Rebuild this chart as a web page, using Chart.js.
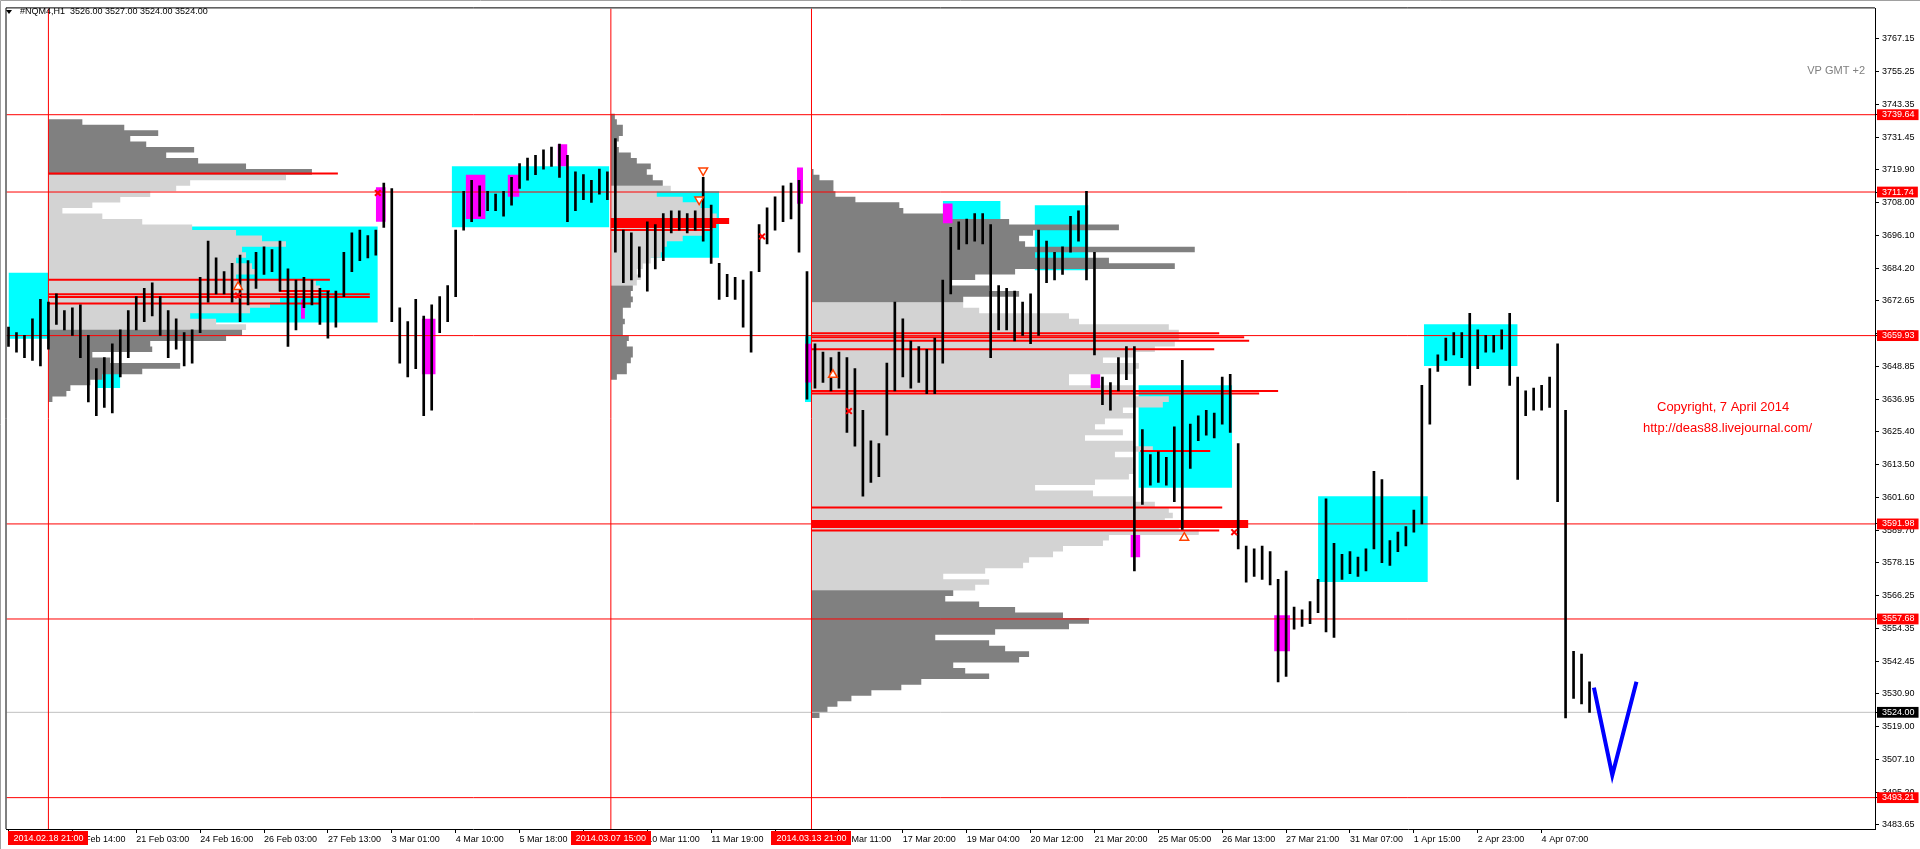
<!DOCTYPE html>
<html>
<head>
<meta charset="utf-8">
<script src="https://cdn.jsdelivr.net/npm/chart.js@4.4.1/dist/chart.umd.min.js"></script>
<style>
  html, body { margin: 0; padding: 0; background: #fff; overflow: hidden; }
  canvas { display: block; }
</style>
</head>
<body>
<canvas id="chart" width="1920" height="849"></canvas>
<script>
// ---- data (NQM4 H1; one sample = 4 hourly bars) ----
const barLow = [
  3656,3654,3652,3651,3649,3655,3664,3662,3660,3652,
  3636,3631,3634,3632,3645,3652,3662,3665,3667,3660,
  3652,3655,3649,3650,3661,3672,3675,3675,3672,3665,
  3671,3677,3682,3683,3676,3656,3662,3670,3671,3664,
  3659,3663,3674,3683,3687,3688,3689,3699,3665,3650,
  3645,3648,3631,3633,3661,3665,3674,3698,3701,3703,
  3705,3705,3703,3707,3713,3716,3718,3720,3721,3717,
  3701,3705,3709,3708,3711,3709,3690,3679,3680,3681,
  3676,3684,3687,3697,3698,3697,3698,3694,3686,3673,
  3674,3673,3663,3654,3683,3693,3698,3701,3702,3690,
  3637,3641,3643,3640,3641,3625,3620,3602,3607,3609,
  3624,3640,3645,3641,3643,3639,3639,3650,3675,3691,
  3693,3694,3693,3652,3662,3662,3658,3660,3657,3660,
  3679,3680,3682,3690,3694,3680,3653,3635,3633,3640,
  3644,3575,3599,3606,3607,3606,3600,3590,3612,3622,
  3624,3623,3628,3625,3583,3571,3573,3572,3570,3535,
  3537,3554,3555,3556,3560,3553,3551,3572,3574,3573,
  3575,3583,3578,3577,3582,3584,3589,3592,3628,3647,
  3651,3653,3652,3642,3648,3654,3654,3655,3642,3608,
  3631,3633,3633,3634,3600,3522,3529,3527,3524
];
const barHigh = [
  3663,3661,3660,3666,3673,3672,3675,3669,3670,3671,
  3660,3648,3652,3657,3662,3669,3674,3677,3679,3674,
  3669,3666,3661,3662,3681,3694,3688,3683,3686,3689,
  3687,3690,3692,3691,3694,3684,3680,3681,3680,3677,
  3676,3676,3690,3697,3698,3696,3698,3715,3713,3670,
  3665,3673,3667,3671,3674,3678,3698,3712,3716,3714,
  3712,3711,3712,3717,3722,3724,3725,3727,3728,3729,
  3725,3719,3718,3716,3720,3719,3731,3698,3697,3692,
  3701,3700,3704,3705,3705,3704,3705,3717,3707,3686,
  3682,3681,3680,3683,3700,3706,3710,3714,3715,3716,
  3683,3657,3654,3652,3654,3652,3648,3633,3622,3621,
  3650,3672,3666,3658,3656,3655,3659,3680,3699,3701,
  3702,3704,3704,3700,3678,3677,3676,3672,3675,3698,
  3694,3690,3692,3703,3705,3712,3690,3645,3643,3652,
  3656,3656,3626,3617,3618,3616,3627,3651,3628,3631,
  3633,3632,3645,3646,3621,3584,3583,3584,3582,3572,
  3575,3562,3561,3564,3572,3601,3585,3581,3582,3580,
  3583,3611,3608,3586,3589,3591,3597,3642,3648,3653,
  3659,3661,3661,3668,3662,3660,3660,3662,3668,3645,
  3640,3641,3642,3645,3657,3633,3546,3545,3535
];
// hour index of each sample on the time axis
const barHour = barLow.map((_, i) => 1 + 4 * i);

const xTickLabels = [
  '18 Feb 07:00', '19 Feb 14:00', '21 Feb 03:00', '24 Feb 16:00', '26 Feb 03:00',
  '27 Feb 13:00', '3 Mar 01:00', '4 Mar 10:00', '5 Mar 18:00', '7 Mar 03:00',
  '10 Mar 11:00', '11 Mar 19:00', '13 Mar 03:00', '14 Mar 11:00', '17 Mar 20:00',
  '19 Mar 04:00', '20 Mar 12:00', '21 Mar 20:00', '25 Mar 05:00', '26 Mar 13:00',
  '27 Mar 21:00', '31 Mar 07:00', '1 Apr 15:00', '2 Apr 23:00', '4 Apr 07:00'
];
const xTickHour = xTickLabels.map((_, i) => 1 + 32 * i);

const yTickValues = [
  3767.15, 3755.25, 3743.35, 3731.45, 3719.90, 3708.00, 3696.10, 3684.20, 3672.65,
  3660.75, 3648.85, 3636.95, 3625.40, 3613.50, 3601.60, 3589.70, 3578.15, 3566.25,
  3554.35, 3542.45, 3530.90, 3519.00, 3507.10, 3495.20, 3483.65
];
const levelPrices = [3739.64, 3711.74, 3659.93, 3591.98, 3557.68, 3493.21];
const lastPrice = 3524.00;

// session starts (vertical lines) = volume profile anchors
const sessionHour = [21, 302.75, 403.25];
const sessionLabels = ['2014.02.18 21:00', '2014.03.07 15:00', '2014.03.13 21:00'];

// volume profiles: 2-point bins from the top price down, length in hours
const profileTop = [3737, 3739, 3719];
const profileVaLow = [3662, 3678, 3568];
const profileVaHigh = [3718, 3714, 3672];
const profile1Len = [17,38,55,41,49,73,59,75,99,132,119,71,64,51,36,22,7,27,47,72,
  94,107,119,97,99,94,102,104,94,134,136,136,116,111,101,71,84,99,97,89,
  51,52,22,31,66,47,27,21,11,9,2];
const profile2Len = [2,3,6,6,4,3,4,10,13,20,18,21,26,30,23,36,45,50,53,53,
  51,46,36,28,26,25,20,16,13,15,13,11,10,11,10,6,6,7,6,6,9,8,11,11,10,8,8,3];
const profile3Len = [1,4,11,11,12,22,44,46,66,99,154,111,104,107,192,112,149,182,102,82,
  70,89,104,76,76,84,129,134,179,184,184,182,172,162,146,164,162,129,129,162,
  162,179,176,156,161,147,142,156,137,161,171,152,161,161,162,159,142,112,141,162,
  172,179,181,177,184,194,149,146,126,121,109,106,87,66,89,82,71,67,84,102,
  126,139,129,92,62,89,97,109,104,71,77,89,55,45,30,20,13,8,4];

// short red levels inside the profiles
const pocPrice = [3718.4, 3680.1, 3676.0, 3674.9, 3673.9, 3671.5,
  3702.0, 3701.3, 3700.6, 3699.8, 3699.1, 3698.0,
  3660.8, 3659.3, 3658.1, 3655.0, 3639.9, 3639.0, 3618.3,
  3597.9, 3593.0, 3592.3, 3591.6, 3590.9, 3589.6];
const pocFrom = [21, 21, 136.5, 21, 21, 21,
  302.75, 302.75, 302.75, 302.75, 302.75, 302.75,
  403.25, 403.25, 403.25, 403.25, 403.25, 403.25, 568,
  403.25, 403.25, 403.25, 403.25, 403.25, 403.25];
const pocTo = [166, 162, 162, 182, 182, 157.5,
  362, 362, 362, 355.5, 355.5, 353.5,
  607.5, 620, 622.5, 605, 637, 627.5, 603,
  609, 622, 622, 622, 622, 607.5];

// balance zones (cyan) and signal bars (magenta): hours and prices
const cyanFrom = [1, 78.5, 45, 223, 318.5, 469, 515, 567, 657, 710, 400];
const cyanTo   = [21, 186, 57, 302, 357, 498, 542, 614, 712, 757, 403];
const cyanLow  = [3658.8, 3664.7, 3641.0, 3699.0, 3688.0, 3694.0, 3683.5, 3605.0, 3571.0, 3649.0, 3636.0];
const cyanHigh = [3682.6, 3699.3, 3646.5, 3721.0, 3712.0, 3708.5, 3707.0, 3642.0, 3602.0, 3664.0, 3659.7];

const magFrom = [185, 208, 230, 251, 276, 396, 400, 469, 543, 563, 635, 147.5];
const magTo   = [190, 215, 240, 257, 281, 399, 403, 474, 548, 568, 643, 149.5];
const magLow  = [3701.0, 3646.0, 3702.0, 3710.0, 3721.0, 3707.5, 3643.0, 3700.5, 3641.0, 3580.0, 3546.0, 3666.0];
const magHigh = [3713.5, 3666.0, 3718.0, 3718.0, 3729.0, 3720.6, 3657.0, 3707.6, 3646.0, 3588.0, 3559.0, 3673.0];

const crossHour = [116, 186, 378.5, 422, 615];
const crossPrice = [3674.4, 3711.4, 3695.7, 3632.7, 3589.0];
const upHour = [116, 414, 590];
const upPrice = [3677.5, 3645.8, 3587.0];
const downHour = [349, 347];
const downPrice = [3719.5, 3709.0];

// hand-drawn forecast
const fcHour = [795.2, 804.4, 816.5];
const fcPrice = [3532.9, 3501.3, 3535.0];

const yMin = 3481.9, yMax = 3778.0, xMax = 936;

// ---- datasets ----
const hline = (p, from, to, color, width, order) => ({
  type: 'line', data: [{ x: from, y: p }, { x: to, y: p }],
  borderColor: color, borderWidth: width, pointRadius: 0, order
});
const rect = (x0, x1, lo, hi, color, order) => ({
  type: 'line', data: [{ x: x0, y: hi }, { x: x1, y: hi }],
  fill: { value: lo }, backgroundColor: color, borderColor: 'rgba(0,0,0,0)',
  borderWidth: 0, pointRadius: 0, order
});

// each profile row is a thick horizontal stroke; rows are split by gaps
const profiles = [profile1Len, profile2Len, profile3Len];
const rowsDark = [], rowsLight = [];
profiles.forEach((lens, p) => lens.forEach((len, i) => {
  const price = profileTop[p] - 2 * i;
  const inVa = price > profileVaLow[p] && price < profileVaHigh[p];
  const target = inVa ? rowsLight : rowsDark;
  target.push({ x: sessionHour[p], y: price }, { x: sessionHour[p] + len, y: price },
              { x: sessionHour[p] + len, y: null });
}));
const profileRows = (rows, color) => ({
  type: 'line', data: rows, borderColor: color, borderWidth: 5.6,
  borderCapStyle: 'butt', pointRadius: 0, spanGaps: false, order: 6
});

const datasets = [
  {
    type: 'line', data: fcHour.map((h, i) => ({ x: h, y: fcPrice[i] })),
    borderColor: '#0000ff', borderWidth: 4, pointRadius: 0, order: 0
  },
  {
    type: 'scatter', data: crossHour.map((h, i) => ({ x: h, y: crossPrice[i] })),
    pointStyle: 'crossRot', radius: 4, borderColor: '#ff0000', borderWidth: 2, order: 1
  },
  {
    type: 'scatter', data: upHour.map((h, i) => ({ x: h, y: upPrice[i] })),
    pointStyle: 'triangle', radius: 5, borderColor: '#ff4000', backgroundColor: '#ffffff', borderWidth: 1.5, order: 1
  },
  {
    type: 'scatter', data: downHour.map((h, i) => ({ x: h, y: downPrice[i] })),
    pointStyle: 'triangle', rotation: 180, radius: 5, borderColor: '#ff4000', backgroundColor: '#ffffff', borderWidth: 1.5, order: 1
  },
  {
    type: 'bar', data: barHour.map((h, i) => ({ x: h, y: [barLow[i], barHigh[i]] })),
    backgroundColor: '#000000', barThickness: 2, maxBarThickness: 2, grouped: false, order: 2
  },
  ...levelPrices.map(p => hline(p, 0, xMax, '#ff0000', 1, 3)),
  ...pocPrice.map((p, i) => hline(p, pocFrom[i], pocTo[i], '#ff0000', 2, 3)),
  ...sessionHour.map(h => ({
    type: 'line', data: [{ x: h, y: yMin }, { x: h, y: yMax }],
    borderColor: '#ff0000', borderWidth: 1, pointRadius: 0, order: 3
  })),
  hline(lastPrice, 0, xMax, '#c0c0c0', 1, 4),
  ...magFrom.map((x0, i) => rect(x0, magTo[i], magLow[i], magHigh[i], '#ff00ff', 5)),
  profileRows(rowsDark, '#808080'),
  profileRows(rowsLight, '#d3d3d3'),
  ...cyanFrom.map((x0, i) => rect(x0, cyanTo[i], cyanLow[i], cyanHigh[i], '#00ffff', 7))
];

// ---- overlay: frame, header, captions, session date boxes ----
const overlay = {
  id: 'overlay',
  afterDraw(chart) {
    const { ctx, chartArea: a } = chart;
    const x = chart.scales.x;
    ctx.save();
    ctx.strokeStyle = '#a0a0a0';
    ctx.lineWidth = 1;
    ctx.beginPath();
    ctx.moveTo(0.5, 849); ctx.lineTo(0.5, 0.5); ctx.lineTo(1920, 0.5);
    ctx.stroke();
    ctx.strokeStyle = '#000';
    ctx.beginPath();
    ctx.moveTo(a.left - 0.5, a.bottom); ctx.lineTo(a.left - 0.5, a.top - 0.5); ctx.lineTo(a.right, a.top - 0.5);
    ctx.stroke();

    ctx.fillStyle = '#000';
    ctx.beginPath();
    ctx.moveTo(6, 10); ctx.lineTo(12, 10); ctx.lineTo(9, 14); ctx.closePath();
    ctx.fill();
    ctx.font = '9px "Liberation Sans"';
    ctx.textBaseline = 'middle';
    ctx.fillText('#NQM4,H1  3526.00 3527.00 3524.00 3524.00', 20, 12);

    ctx.fillStyle = '#808080';
    ctx.font = '11px "Liberation Sans"';
    ctx.textAlign = 'right';
    ctx.fillText('VP GMT +2', 1865, 71);

    ctx.fillStyle = '#ff0000';
    ctx.font = '13px "Liberation Sans"';
    ctx.textAlign = 'left';
    ctx.fillText('Copyright, 7 April 2014', 1657, 407);
    ctx.fillText('http://deas88.livejournal.com/', 1643, 428);

    ctx.font = '9px "Liberation Sans"';
    ctx.textAlign = 'center';
    sessionHour.forEach((h, i) => {
      const px = x.getPixelForValue(h);
      ctx.fillStyle = '#ff0000';
      ctx.fillRect(Math.round(px) - 40, a.bottom + 2, 80, 14);
      ctx.fillStyle = '#ffffff';
      ctx.fillText(sessionLabels[i], px, a.bottom + 9.5);
    });
    ctx.restore();
  }
};

Chart.defaults.font.family = '"Liberation Sans", Arial, sans-serif';
const nReg = yTickValues.length;
const allYTicks = yTickValues.concat(levelPrices, [lastPrice]);

new Chart(document.getElementById('chart'), {
  type: 'bar',
  data: { datasets },
  options: {
    responsive: false,
    animation: false,
    devicePixelRatio: 1,
    events: [],
    layout: { padding: { left: 3, top: 3, right: 0, bottom: 0 } },
    plugins: { legend: { display: false }, tooltip: { enabled: false } },
    scales: {
      x: {
        type: 'linear', min: 0, max: xMax, offset: false,
        afterFit: s => { s.height = 20; },
        afterBuildTicks: s => { s.ticks = xTickHour.map(v => ({ value: v })); },
        ticks: {
          autoSkip: false, maxRotation: 0, minRotation: 0, align: 'start', padding: 1,
          color: '#000', font: { size: 9 },
          callback: (v, i) => xTickLabels[i]
        },
        grid: { offset: false, drawOnChartArea: false, drawTicks: true, tickLength: 4, color: '#000' },
        border: { display: true, color: '#000' }
      },
      y: {
        type: 'linear', position: 'right', min: yMin, max: yMax,
        afterFit: s => { s.width = 45; },
        afterBuildTicks: s => { s.ticks = allYTicks.map(v => ({ value: v })); },
        ticks: {
          autoSkip: false, padding: 3, font: { size: 9 },
          color: c => c.index >= nReg ? '#ffffff' : '#000000',
          showLabelBackdrop: c => c.index >= nReg,
          backdropColor: c => c.index === allYTicks.length - 1 ? '#000000' : '#ff0000',
          backdropPadding: { left: 5, right: 4, top: 0, bottom: 0 },
          callback: v => Number(v).toFixed(2)
        },
        grid: { drawOnChartArea: false, drawTicks: true, tickLength: 4, color: '#000' },
        border: { display: true, color: '#000' }
      }
    }
  },
  plugins: [overlay]
});
</script>
</body>
</html>
